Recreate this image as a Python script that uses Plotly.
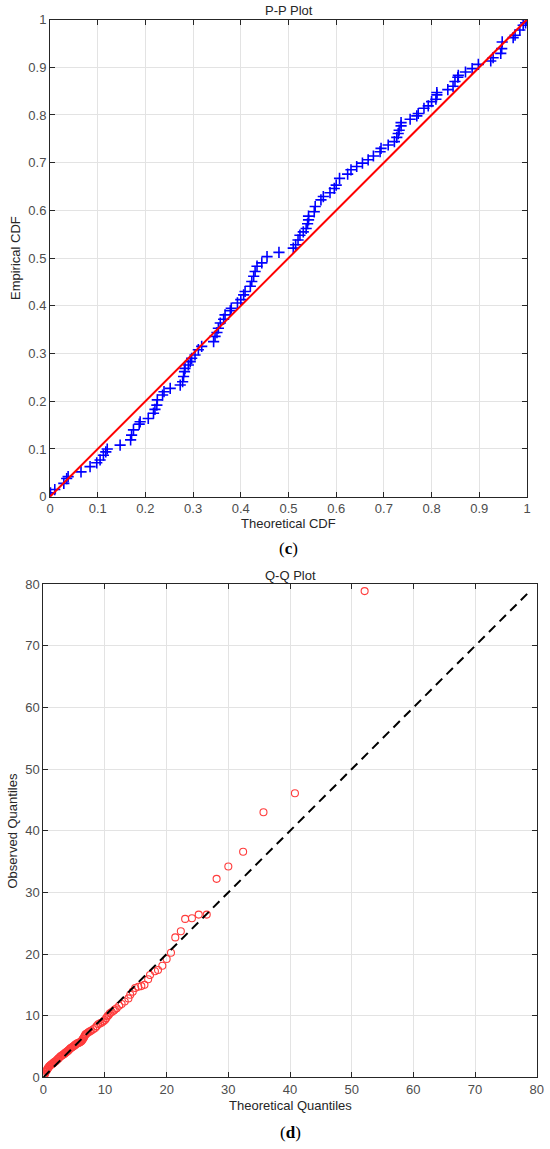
import plotly.graph_objects as go

# ---------------- P-P data (theoretical CDF, empirical CDF) ----------------
pp_theoretical = [0.001, 0.010, 0.029, 0.035, 0.038, 0.065, 0.084, 0.098, 0.105, 0.112,
                  0.117, 0.120, 0.147, 0.169, 0.171, 0.175, 0.187, 0.189, 0.206, 0.217,
                  0.220, 0.224, 0.225, 0.236, 0.239, 0.252, 0.273, 0.278, 0.280, 0.282,
                  0.283, 0.290, 0.294, 0.297, 0.304, 0.311, 0.318, 0.343, 0.346, 0.350,
                  0.353, 0.357, 0.364, 0.367, 0.378, 0.380, 0.393, 0.400, 0.406, 0.409,
                  0.420, 0.423, 0.427, 0.430, 0.434, 0.444, 0.455, 0.480, 0.510, 0.515,
                  0.520, 0.524, 0.531, 0.537, 0.540, 0.542, 0.542, 0.554, 0.556, 0.568,
                  0.573, 0.587, 0.596, 0.600, 0.607, 0.624, 0.631, 0.643, 0.655, 0.667,
                  0.678, 0.692, 0.694, 0.709, 0.722, 0.727, 0.730, 0.732, 0.736, 0.736,
                  0.755, 0.769, 0.772, 0.784, 0.793, 0.800, 0.809, 0.811, 0.811, 0.834,
                  0.845, 0.849, 0.855, 0.856, 0.871, 0.885, 0.898, 0.924, 0.929, 0.945,
                  0.947, 0.948, 0.971, 0.975, 0.985, 0.992, 0.997, 1.000]
pp_empirical = [0.008, 0.015, 0.028, 0.038, 0.042, 0.052, 0.063, 0.071, 0.077, 0.087,
                0.094, 0.100, 0.108, 0.119, 0.129, 0.140, 0.152, 0.157, 0.164, 0.175,
                0.183, 0.192, 0.203, 0.213, 0.220, 0.227, 0.234, 0.241, 0.252, 0.262,
                0.269, 0.276, 0.283, 0.290, 0.297, 0.308, 0.315, 0.325, 0.336, 0.344,
                0.353, 0.364, 0.372, 0.381, 0.390, 0.395, 0.406, 0.413, 0.423, 0.430,
                0.441, 0.451, 0.462, 0.472, 0.483, 0.490, 0.503, 0.512, 0.521, 0.528,
                0.538, 0.548, 0.555, 0.562, 0.572, 0.580, 0.588, 0.597, 0.608, 0.622,
                0.629, 0.637, 0.646, 0.653, 0.667, 0.676, 0.685, 0.692, 0.699, 0.706,
                0.714, 0.723, 0.730, 0.737, 0.744, 0.753, 0.761, 0.768, 0.777, 0.784,
                0.791, 0.798, 0.803, 0.814, 0.819, 0.828, 0.833, 0.842, 0.847, 0.853,
                0.860, 0.870, 0.879, 0.883, 0.890, 0.897, 0.906, 0.913, 0.920, 0.929,
                0.939, 0.953, 0.962, 0.967, 0.978, 0.988, 0.993, 1.000]
pp_ref_line = [0, 1]
pp_ticks = [0, 0.1, 0.2, 0.3, 0.4, 0.5, 0.6, 0.7, 0.8, 0.9, 1]
pp_tick_labels = ["0", "0.1", "0.2", "0.3", "0.4", "0.5", "0.6", "0.7", "0.8", "0.9", "1"]

# ---------------- Q-Q data (theoretical quantiles, observed quantiles) ----------------
qq_theoretical = [0.05, 0.1, 0.2, 0.3, 0.4, 0.5, 0.6, 0.7, 0.8, 0.9, 1.0, 1.1, 1.2, 1.35,
                  1.5, 1.6, 1.7, 1.85, 2.0, 2.15, 2.3, 2.4, 2.5, 2.65, 2.8, 2.95, 3.1,
                  3.25, 3.4, 3.5, 3.6, 3.75, 3.9, 4.0, 4.1, 4.25, 4.4, 4.55, 4.7, 4.85,
                  5.0, 5.1, 5.2, 5.35, 5.5, 5.65, 5.8, 5.95, 6.1, 6.2, 6.3, 6.4, 6.5,
                  6.6, 6.7, 6.8, 6.9, 7.1, 7.3, 7.55, 7.8, 8.1, 8.4, 8.65, 8.9, 9.2, 9.5,
                  9.75, 10.0, 10.2, 10.4, 10.6, 10.8, 11.1, 11.4, 11.6, 11.9, 12.3, 12.7,
                  13.2, 13.8, 14.1, 14.5, 14.9, 15.4, 15.9, 16.4, 17.0, 17.3, 18.1, 18.6,
                  19.3, 20.0, 20.7, 21.4, 22.3, 23.0, 24.1, 25.2, 26.5, 28.1, 30.0, 32.4,
                  35.7, 40.8, 52.1]
qq_observed = [0.1, 0.2, 0.4, 0.6, 0.9, 1.1, 1.2, 1.4, 1.5, 1.7, 1.8, 1.9, 2.0, 2.1,
               2.2, 2.3, 2.4, 2.5, 2.6, 2.75, 2.9, 3.0, 3.1, 3.25, 3.4, 3.5, 3.6, 3.7,
               3.8, 3.9, 4.0, 4.1, 4.2, 4.3, 4.4, 4.55, 4.7, 4.8, 4.9, 5.0, 5.1, 5.2,
               5.3, 5.4, 5.5, 5.55, 5.6, 5.7, 5.8, 5.9, 6.0, 6.2, 6.3, 6.5, 6.7, 6.9,
               7.0, 7.15, 7.3, 7.45, 7.6, 7.8, 8.0, 8.3, 8.6, 8.75, 8.9, 9.1, 9.3, 9.6,
               9.9, 10.1, 10.4, 10.6, 10.8, 11.0, 11.2, 11.6, 11.9, 12.3, 12.8, 13.4,
               13.9, 14.5, 14.7, 14.8, 15.0, 15.9, 16.6, 17.2, 17.4, 18.1, 19.2, 20.2,
               22.7, 23.7, 25.7, 25.8, 26.4, 26.4, 32.2, 34.2, 36.6, 43.0, 46.1, 78.9]
qq_ref_line = [0, 79]
qq_ticks = [0, 10, 20, 30, 40, 50, 60, 70, 80]
qq_tick_labels = ["0", "10", "20", "30", "40", "50", "60", "70", "80"]

W, H = 550, 1149
FONT = "Liberation Sans, Arial, sans-serif"
SERIF = "Liberation Serif, Times New Roman, serif"
AX = "#262626"
TICKC = "#4d4d4d"
GRID = "#e3e3e3"

fig = go.Figure()

fig.add_trace(go.Scatter(
    x=pp_theoretical, y=pp_empirical, mode="markers",
    marker=dict(symbol="cross-thin", size=8, line=dict(color="#0000ff", width=1.6)),
    xaxis="x", yaxis="y", showlegend=False, hoverinfo="skip"))
fig.add_trace(go.Scatter(
    x=pp_ref_line, y=pp_ref_line, mode="lines",
    line=dict(color="#ff0000", width=2),
    xaxis="x", yaxis="y", showlegend=False, hoverinfo="skip"))

fig.add_trace(go.Scatter(
    x=qq_theoretical, y=qq_observed, mode="markers",
    marker=dict(symbol="circle-open", size=7, color="#ff3c3c", line=dict(width=1.1)),
    xaxis="x2", yaxis="y2", showlegend=False, hoverinfo="skip"))
fig.add_trace(go.Scatter(
    x=qq_ref_line, y=qq_ref_line, mode="lines",
    line=dict(color="#000000", width=2, dash="9px,6px"),
    xaxis="x2", yaxis="y2", showlegend=False, hoverinfo="skip"))


def ax(domain, rng, ticks, labels, anchor):
    return dict(
        domain=domain, range=rng, anchor=anchor, automargin=False,
        tickvals=ticks, ticktext=labels,
        showgrid=True, gridcolor=GRID, gridwidth=1, zeroline=False,
        showline=True, linecolor=AX, linewidth=1, mirror="ticks",
        ticks="inside", ticklen=5, tickcolor=AX, tickwidth=1,
        tickfont=dict(family=FONT, size=13, color=TICKC),
        fixedrange=True)


def label(text, x, y, font=FONT, size=13, color=AX, angle=0):
    return dict(text=text, x=x / W, y=1 - y / H, xref="paper", yref="paper",
                xanchor="center", yanchor="middle", showarrow=False, textangle=angle,
                font=dict(family=font, size=size, color=color))


fig.update_layout(
    template="none",
    width=W, height=H, autosize=False,
    margin=dict(l=0, r=0, t=0, b=0, pad=0),
    paper_bgcolor="white", plot_bgcolor="white",
    xaxis=ax([50 / W, 527 / W], [0, 1], pp_ticks, pp_tick_labels, "y"),
    yaxis=ax([1 - 496.7 / H, 1 - 19.5 / H], [0, 1], pp_ticks, pp_tick_labels, "x"),
    xaxis2=ax([43.3 / W, 536.7 / W], [0, 80], qq_ticks, qq_tick_labels, "y2"),
    yaxis2=ax([1 - 1077.3 / H, 1 - 584.3 / H], [0, 80], qq_ticks, qq_tick_labels, "x2"),
    annotations=[
        label("P-P Plot", 288.5, 10),
        label("Theoretical CDF", 288.5, 523),
        label("Empirical CDF", 15, 258, angle=-90),
        label("(<b>c</b>)", 288, 548, font=SERIF, size=17, color="#000"),
        label("Q-Q Plot", 290, 575),
        label("Theoretical Quantiles", 290, 1105),
        label("Observed Quantiles", 12.5, 831, angle=-90),
        label("(<b>d</b>)", 290, 1132, font=SERIF, size=17, color="#000"),
    ],
)

fig.write_html(
    "out.html",
    config={"displayModeBar": False, "staticPlot": True},
    post_script="document.body.style.margin='0';document.body.style.overflow='hidden';",
)
